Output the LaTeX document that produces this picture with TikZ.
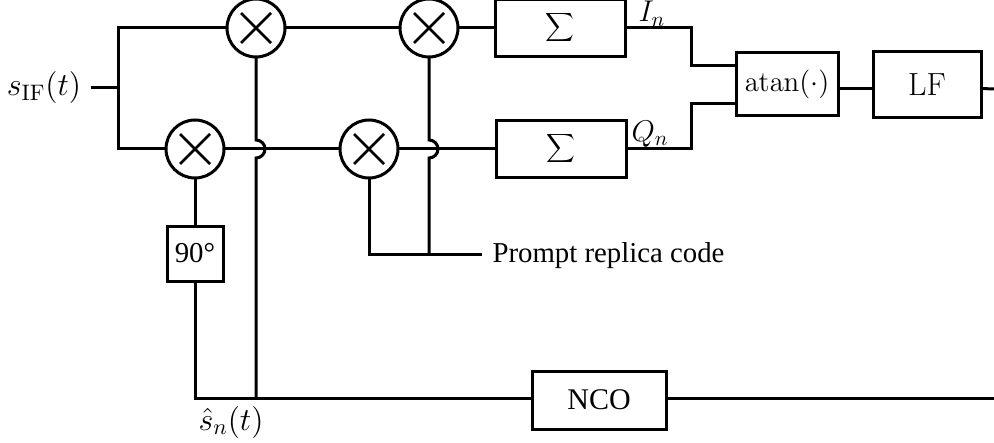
\documentclass[tikz,border=0pt]{standalone}
\usepackage{fix-cm}
\usepackage[no-math]{fontspec}
\newfontfamily\timesfont{Liberation Serif}
\newcommand{\labelsize}{\fontsize{16}{19}\selectfont}
\newcommand{\smalllabelsize}{\fontsize{15}{18}\selectfont}
\usetikzlibrary{positioning}

\begin{document}
\begin{tikzpicture}[
x=0.5pt, y=0.5pt, line width=1.5pt,
% node style
mult/.style={circle, draw=black, minimum size=29pt, inner sep=0pt, outer sep=0pt,
  path picture={
    \draw[line width=1.3pt] (path picture bounding box.center) +(-7.5pt,-7.5pt) -- +(7.5pt,7.5pt);
    \draw[line width=1.3pt] (path picture bounding box.center) +(-7.5pt,7.5pt) -- +(7.5pt,-7.5pt);
  }},
rect/.style={rectangle, draw=black, inner sep=0pt, outer sep=0pt, font=\labelsize},
sumrect/.style={rect, minimum width=65pt, minimum height=28.5pt},
timesrect/.style={rect, font=\smalllabelsize\timesfont},
label/.style={inner sep=0pt, font=\labelsize}
]
\useasboundingbox (0,0) rectangle (994,-443);

% nodes
\node[mult] (mult_tl) at (256,-28) {};
\node[mult] (mult_tr) [right=57.5pt of mult_tl] {};
\node[mult] (mult_bl) at (195,-149) {};
\node[mult] (mult_br) [right=58pt of mult_bl] {};
\node[sumrect] (sum_i) [right=18.5pt of mult_tr] {$\displaystyle\sum$};
\node[sumrect] (sum_q) [right=49pt of mult_br] {$\displaystyle\sum$};
\node[rect, font=\Large, minimum width=51pt, minimum height=31.5pt] (atan) at (787,-84.5) {$\mathrm{atan}(\cdot)$};
\node[rect, minimum width=54pt, minimum height=33pt] (lf) [right=17.5pt of atan] {LF};
\node[timesrect, font=\Large\timesfont, minimum width=28pt, minimum height=27.5pt] (ninety) [below=24pt of mult_bl] {90°};
\node[timesrect, minimum width=67pt, minimum height=29pt] (nco) at (599,-400) {NCO};

% labels
\node[label, inner sep=4pt] (sif) at (44,-88) {$s_{\mathrm{IF}}(t)$};
\node[label, font=\smalllabelsize] (i_n) at (652,-14) {$I_n$};
\node[label, font=\smalllabelsize] (q_n) at (650,-134) {$Q_n$};
\node[label] (s_hat) at (231,-422) {$\hat{s}_n(t)$};
\node[label, font=\Large\timesfont, anchor=west] (prompt) at (491,-256) {Prompt replica code};

% free points
\coordinate (split) at (118,-88);
\coordinate (elbow) at (691,-84);
\coordinate (ain_i) at ([yshift=9.25pt]atan.west);
\coordinate (ain_q) at ([yshift=-9.75pt]atan.west);
\coordinate (code) at (482,-254);
\coordinate (lf_out) at (994,-89);
\coordinate (nco_in) at ([yshift=0.75pt]nco.west);
\coordinate (nco_end) at ([yshift=0.75pt]nco.east);
\coordinate (nco_out) at (994,-398.5);
\coordinate (jump_l) at (mult_tl |- mult_bl);
\coordinate (jump_r) at (mult_tr |- mult_bl);

% draw lines between nodes
\draw (sif) -- (split);
\draw (mult_tl.west) -| (split) |- (mult_bl.west);
\draw (mult_tl) -- (mult_tr);
\draw (mult_bl) -- (mult_br);
\draw (mult_tr) -- (sum_i);
\draw (mult_br) -- (sum_q);
\draw (sum_i.east) -| (elbow |- ain_i) -- (ain_i);
\draw (sum_q.east) -| (elbow |- ain_q) -- (ain_q);
\draw ([yshift=-2.25pt]atan.east) -- ([yshift=-2.25pt]lf.west);
\draw ([yshift=-2pt]lf.east) -- (lf_out);
\draw (mult_bl) -- (ninety);

% hack for the two line jumps
\draw (mult_tl.south) -- ([yshift=4.5pt]jump_l) arc[start angle=90, end angle=-90, radius=4.5pt]
  -- (mult_tl |- nco_in);
\draw (mult_tr.south) -- ([yshift=4.5pt]jump_r) arc[start angle=90, end angle=-90, radius=4.5pt]
  -- (mult_tr |- code);

\draw (mult_br) |- (code);
\draw (ninety) |- (nco_in);
\draw (nco_end) -- (nco_out);

\end{tikzpicture}
\end{document}
